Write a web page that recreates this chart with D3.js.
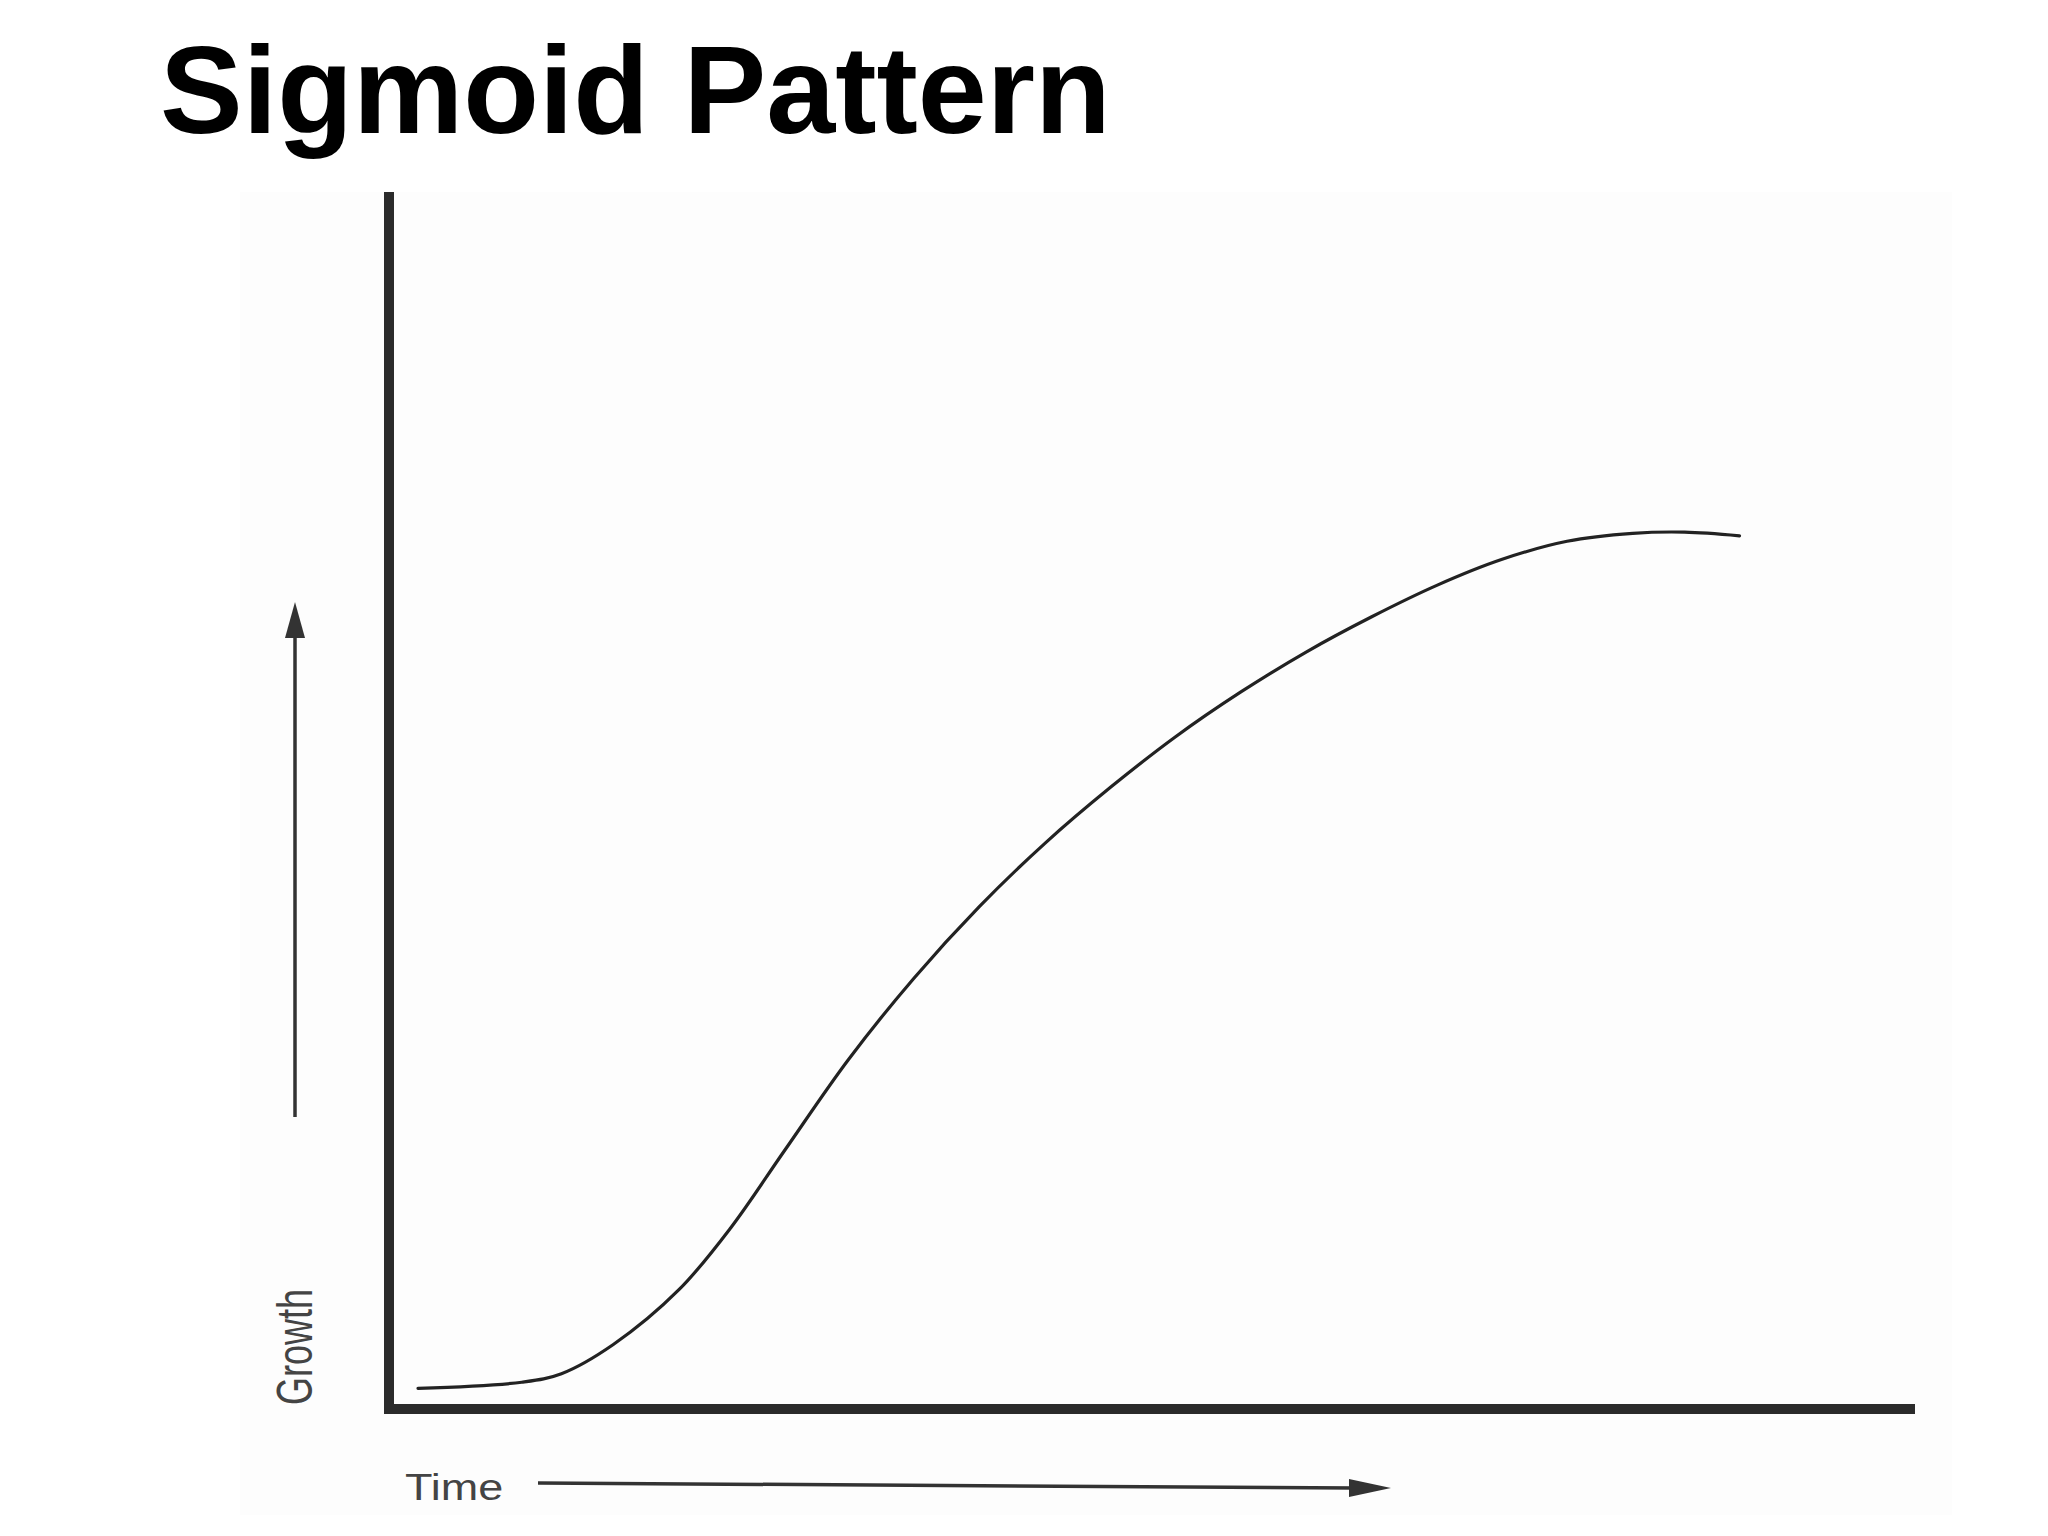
<!DOCTYPE html>
<html><head><meta charset="utf-8">
<script src="https://cdn.jsdelivr.net/npm/d3@7"></script>
<style>html,body{margin:0;padding:0;background:#fff;} svg{display:block;}</style>
</head><body>
<svg id="chart" width="2048" height="1536"></svg>
<script>
// ---- data ----
const chartTitle = "Sigmoid Pattern";
const xLabel = "Time";
const yLabel = "Growth";
const time   = [1.9, 8.7, 11.3, 14.7, 19.0, 22.4, 25.9, 30.1, 34.4, 38.7, 43.0, 47.3, 51.5, 55.8, 60.1, 64.4, 68.7, 72.9, 77.2, 81.5, 84.9, 88.5];
const growth = [1.7, 2.2, 2.9, 5.3, 9.8, 14.9, 21.2, 28.7, 35.4, 41.3, 46.5, 51.1, 55.2, 58.9, 62.2, 65.1, 67.7, 69.8, 71.3, 71.95, 72.05, 71.75];
const xDomain = [0, 100];
const yDomain = [0, 100];

// ---- layout ----
const plot = {left: 389, right: 1915, top: 192, bottom: 1409};

const svg = d3.select("#chart");

// faint scanned-page panel
svg.append("rect").attr("x", 240).attr("y", 192).attr("width", 1712).attr("height", 1323)
  .attr("fill", "#fdfdfd");

const x = d3.scaleLinear().domain(xDomain).range([plot.left, plot.right]);
const y = d3.scaleLinear().domain(yDomain).range([plot.bottom, plot.top]);

// title
svg.append("text").attr("x", 160).attr("y", 133)
  .attr("font-family", "'Liberation Sans', Arial, sans-serif")
  .attr("font-weight", "bold").attr("font-size", 124).attr("fill", "#000")
  .text(chartTitle);

// axes (L shape)
const axisLine = d3.line().x(d => x(d[0])).y(d => y(d[1]));
svg.append("path")
  .attr("d", axisLine([[xDomain[0], yDomain[1]], [xDomain[0], yDomain[0]], [xDomain[1], yDomain[0]]]))
  .attr("fill", "none").attr("stroke", "#2b2b2b").attr("stroke-width", 10)
  .attr("stroke-linejoin", "miter").attr("stroke-linecap", "butt");

// sigmoid curve
const pts = time.map((t, i) => [t, growth[i]]);
svg.append("path")
  .attr("d", d3.line().x(d => x(d[0])).y(d => y(d[1])).curve(d3.curveCatmullRom.alpha(0.5))(pts))
  .attr("fill", "none").attr("stroke", "#222").attr("stroke-width", 3.2)
  .attr("stroke-linecap", "round");

// Growth arrow (vertical)
const gx = 295, gTop = 602, gBot = 1117;
svg.append("line").attr("x1", gx).attr("x2", gx).attr("y1", gBot).attr("y2", gTop + 30)
  .attr("stroke", "#333").attr("stroke-width", 3.5);
svg.append("path")
  .attr("d", `M${gx},${gTop} L${gx + 10},${gTop + 36} L${gx - 10},${gTop + 36} Z`)
  .attr("fill", "#333");

// Growth label
svg.append("text")
  .attr("transform", `translate(312,1405) scale(1.38,1) rotate(-90)`)
  .attr("font-family", "'Liberation Sans', Arial, sans-serif")
  .attr("font-size", 36).attr("fill", "#444")
  .text(yLabel);

// Time label
svg.append("text")
  .attr("transform", `translate(405,1500) scale(1.25,1)`)
  .attr("font-family", "'Liberation Sans', Arial, sans-serif")
  .attr("font-size", 36).attr("fill", "#444")
  .text(xLabel);

// Time arrow (horizontal)
const tx0 = 538, tx1 = 1391, ty0 = 1483, ty1 = 1488;
svg.append("line").attr("x1", tx0).attr("y1", ty0).attr("x2", tx1 - 36).attr("y2", ty1)
  .attr("stroke", "#333").attr("stroke-width", 3.5);
svg.append("path")
  .attr("d", `M${tx1},${ty1} L${tx1 - 42},${ty1 - 9} L${tx1 - 42},${ty1 + 9} Z`)
  .attr("fill", "#333");
</script>
</body></html>
